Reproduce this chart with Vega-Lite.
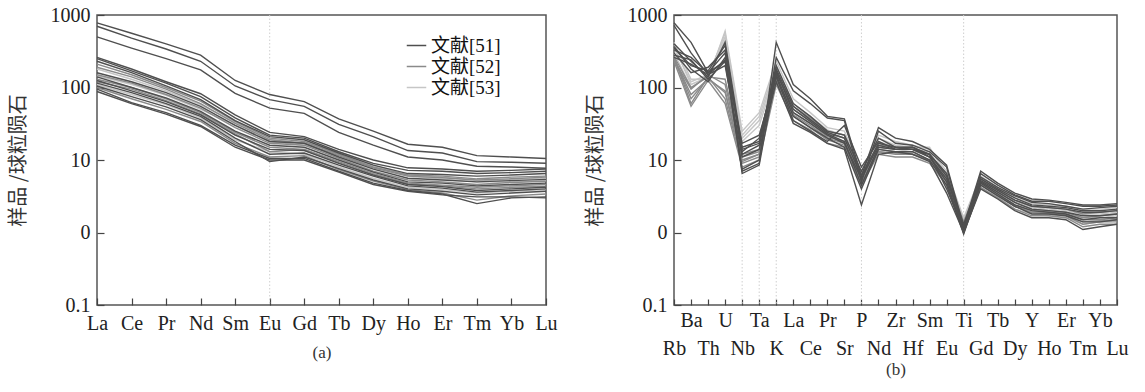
{
"$schema": "https://vega.github.io/schema/vega-lite/v6.json",
"background": "white",
"padding": {"left": 7, "top": 4, "right": 5, "bottom": 5},
"spacing": 26,
"config": {
  "view": {"stroke": "#555", "strokeWidth": 1.5},
  "axis": {"domain": false, "grid": false, "labelFont": "Liberation Serif", "labelFontSize": 20, "labelColor": "#222", "tickColor": "#444", "tickWidth": 1.2, "titleFont": "Noto Sans CJK SC", "titleFontSize": 20, "titleFontWeight": "normal", "titleColor": "#333", "labelFlush": false, "labelOverlap": false},
  "axisX": {"titleFont": "Liberation Serif", "titleFontSize": 17, "labelAngle": 0}
},
"datasets": {
  "refs": [
    {"s":"a1","r":"文献[51]"},{"s":"a2","r":"文献[51]"},{"s":"a3","r":"文献[51]"},{"s":"a4","r":"文献[51]"},{"s":"a5","r":"文献[51]"},{"s":"a6","r":"文献[51]"},{"s":"a9","r":"文献[51]"},{"s":"a12","r":"文献[51]"},{"s":"a14","r":"文献[51]"},{"s":"a16","r":"文献[51]"},{"s":"a18","r":"文献[51]"},{"s":"a20","r":"文献[51]"},{"s":"a21","r":"文献[51]"},
    {"s":"a7","r":"文献[52]"},{"s":"a8","r":"文献[52]"},{"s":"a10","r":"文献[52]"},{"s":"a13","r":"文献[52]"},{"s":"a15","r":"文献[52]"},{"s":"a19","r":"文献[52]"},
    {"s":"a11","r":"文献[53]"},{"s":"a17","r":"文献[53]"},{"s":"a22","r":"文献[53]"},
    {"s":"b1","r":"文献[51]"},{"s":"b2","r":"文献[51]"},{"s":"b3","r":"文献[51]"},{"s":"b4","r":"文献[51]"},{"s":"b5","r":"文献[51]"},{"s":"b6","r":"文献[51]"},{"s":"b7","r":"文献[51]"},{"s":"b8","r":"文献[51]"},{"s":"b9","r":"文献[51]"},
    {"s":"b10","r":"文献[52]"},{"s":"b11","r":"文献[52]"},{"s":"b12","r":"文献[52]"},{"s":"b13","r":"文献[52]"},{"s":"b14","r":"文献[52]"},{"s":"b15","r":"文献[52]"},
    {"s":"b16","r":"文献[53]"},{"s":"b17","r":"文献[53]"},{"s":"b18","r":"文献[53]"},{"s":"b19","r":"文献[53]"}
  ],
  "A": [
{"s":"a11","e":"La","v":145},{"s":"a11","e":"Ce","v":110},{"s":"a11","e":"Pr","v":78},{"s":"a11","e":"Nd","v":50},{"s":"a11","e":"Sm","v":30},{"s":"a11","e":"Eu","v":18},{"s":"a11","e":"Gd","v":16},{"s":"a11","e":"Tb","v":12},{"s":"a11","e":"Dy","v":8},{"s":"a11","e":"Ho","v":6},{"s":"a11","e":"Er","v":5.5},{"s":"a11","e":"Tm","v":5},{"s":"a11","e":"Yb","v":5},{"s":"a11","e":"Lu","v":5.2},
{"s":"a17","e":"La","v":110},{"s":"a17","e":"Ce","v":80},{"s":"a17","e":"Pr","v":58},{"s":"a17","e":"Nd","v":38},{"s":"a17","e":"Sm","v":19},{"s":"a17","e":"Eu","v":13},{"s":"a17","e":"Gd","v":12},{"s":"a17","e":"Tb","v":8},{"s":"a17","e":"Dy","v":5.6},{"s":"a17","e":"Ho","v":4.2},{"s":"a17","e":"Er","v":3.9},{"s":"a17","e":"Tm","v":3.5},{"s":"a17","e":"Yb","v":3.7},{"s":"a17","e":"Lu","v":3.9},
{"s":"a22","e":"La","v":180},{"s":"a22","e":"Ce","v":130},{"s":"a22","e":"Pr","v":90},{"s":"a22","e":"Nd","v":58},{"s":"a22","e":"Sm","v":33},{"s":"a22","e":"Eu","v":19},{"s":"a22","e":"Gd","v":17},{"s":"a22","e":"Tb","v":13},{"s":"a22","e":"Dy","v":8.5},{"s":"a22","e":"Ho","v":6.2},{"s":"a22","e":"Er","v":5.8},{"s":"a22","e":"Tm","v":5.2},{"s":"a22","e":"Yb","v":5.4},{"s":"a22","e":"Lu","v":5.6},
{"s":"a7","e":"La","v":210},{"s":"a7","e":"Ce","v":150},{"s":"a7","e":"Pr","v":100},{"s":"a7","e":"Nd","v":65},{"s":"a7","e":"Sm","v":34},{"s":"a7","e":"Eu","v":20},{"s":"a7","e":"Gd","v":18},{"s":"a7","e":"Tb","v":12},{"s":"a7","e":"Dy","v":8},{"s":"a7","e":"Ho","v":6.2},{"s":"a7","e":"Er","v":6},{"s":"a7","e":"Tm","v":5.5},{"s":"a7","e":"Yb","v":5.8},{"s":"a7","e":"Lu","v":6},
{"s":"a8","e":"La","v":190},{"s":"a8","e":"Ce","v":140},{"s":"a8","e":"Pr","v":95},{"s":"a8","e":"Nd","v":60},{"s":"a8","e":"Sm","v":32},{"s":"a8","e":"Eu","v":19},{"s":"a8","e":"Gd","v":17},{"s":"a8","e":"Tb","v":11.5},{"s":"a8","e":"Dy","v":7.8},{"s":"a8","e":"Ho","v":6},{"s":"a8","e":"Er","v":5.7},{"s":"a8","e":"Tm","v":5.3},{"s":"a8","e":"Yb","v":5.5},{"s":"a8","e":"Lu","v":5.8},
{"s":"a10","e":"La","v":150},{"s":"a10","e":"Ce","v":115},{"s":"a10","e":"Pr","v":80},{"s":"a10","e":"Nd","v":52},{"s":"a10","e":"Sm","v":28},{"s":"a10","e":"Eu","v":17},{"s":"a10","e":"Gd","v":16},{"s":"a10","e":"Tb","v":10.5},{"s":"a10","e":"Dy","v":7},{"s":"a10","e":"Ho","v":5.3},{"s":"a10","e":"Er","v":5},{"s":"a10","e":"Tm","v":4.6},{"s":"a10","e":"Yb","v":4.9},{"s":"a10","e":"Lu","v":5.1},
{"s":"a13","e":"La","v":130},{"s":"a13","e":"Ce","v":100},{"s":"a13","e":"Pr","v":70},{"s":"a13","e":"Nd","v":45},{"s":"a13","e":"Sm","v":24},{"s":"a13","e":"Eu","v":15},{"s":"a13","e":"Gd","v":14},{"s":"a13","e":"Tb","v":9.5},{"s":"a13","e":"Dy","v":6.5},{"s":"a13","e":"Ho","v":4.8},{"s":"a13","e":"Er","v":4.5},{"s":"a13","e":"Tm","v":4.2},{"s":"a13","e":"Yb","v":4.4},{"s":"a13","e":"Lu","v":4.6},
{"s":"a15","e":"La","v":120},{"s":"a15","e":"Ce","v":95},{"s":"a15","e":"Pr","v":66},{"s":"a15","e":"Nd","v":43},{"s":"a15","e":"Sm","v":23},{"s":"a15","e":"Eu","v":13},{"s":"a15","e":"Gd","v":14},{"s":"a15","e":"Tb","v":9.2},{"s":"a15","e":"Dy","v":6.3},{"s":"a15","e":"Ho","v":4.7},{"s":"a15","e":"Er","v":4.4},{"s":"a15","e":"Tm","v":4},{"s":"a15","e":"Yb","v":4.2},{"s":"a15","e":"Lu","v":4.3},
{"s":"a19","e":"La","v":100},{"s":"a19","e":"Ce","v":70},{"s":"a19","e":"Pr","v":50},{"s":"a19","e":"Nd","v":34},{"s":"a19","e":"Sm","v":17},{"s":"a19","e":"Eu","v":11},{"s":"a19","e":"Gd","v":11.5},{"s":"a19","e":"Tb","v":7.4},{"s":"a19","e":"Dy","v":5.1},{"s":"a19","e":"Ho","v":3.9},{"s":"a19","e":"Er","v":3.5},{"s":"a19","e":"Tm","v":2.8},{"s":"a19","e":"Yb","v":3.2},{"s":"a19","e":"Lu","v":3.4},
{"s":"a1","e":"La","v":780},{"s":"a1","e":"Ce","v":560},{"s":"a1","e":"Pr","v":400},{"s":"a1","e":"Nd","v":280},{"s":"a1","e":"Sm","v":125},{"s":"a1","e":"Eu","v":80},{"s":"a1","e":"Gd","v":64},{"s":"a1","e":"Tb","v":37},{"s":"a1","e":"Dy","v":25},{"s":"a1","e":"Ho","v":16.5},{"s":"a1","e":"Er","v":15},{"s":"a1","e":"Tm","v":11.5},{"s":"a1","e":"Yb","v":11},{"s":"a1","e":"Lu","v":10.5},
{"s":"a2","e":"La","v":700},{"s":"a2","e":"Ce","v":480},{"s":"a2","e":"Pr","v":340},{"s":"a2","e":"Nd","v":230},{"s":"a2","e":"Sm","v":105},{"s":"a2","e":"Eu","v":68},{"s":"a2","e":"Gd","v":55},{"s":"a2","e":"Tb","v":31},{"s":"a2","e":"Dy","v":21},{"s":"a2","e":"Ho","v":13.5},{"s":"a2","e":"Er","v":12.5},{"s":"a2","e":"Tm","v":9.5},{"s":"a2","e":"Yb","v":9.3},{"s":"a2","e":"Lu","v":9},
{"s":"a3","e":"La","v":500},{"s":"a3","e":"Ce","v":350},{"s":"a3","e":"Pr","v":250},{"s":"a3","e":"Nd","v":175},{"s":"a3","e":"Sm","v":83},{"s":"a3","e":"Eu","v":52},{"s":"a3","e":"Gd","v":44},{"s":"a3","e":"Tb","v":24},{"s":"a3","e":"Dy","v":16},{"s":"a3","e":"Ho","v":11},{"s":"a3","e":"Er","v":10},{"s":"a3","e":"Tm","v":8.2},{"s":"a3","e":"Yb","v":8},{"s":"a3","e":"Lu","v":7.7},
{"s":"a4","e":"La","v":260},{"s":"a4","e":"Ce","v":180},{"s":"a4","e":"Pr","v":120},{"s":"a4","e":"Nd","v":82},{"s":"a4","e":"Sm","v":42},{"s":"a4","e":"Eu","v":24},{"s":"a4","e":"Gd","v":21},{"s":"a4","e":"Tb","v":14},{"s":"a4","e":"Dy","v":10},{"s":"a4","e":"Ho","v":7.8},{"s":"a4","e":"Er","v":7.5},{"s":"a4","e":"Tm","v":7},{"s":"a4","e":"Yb","v":7.2},{"s":"a4","e":"Lu","v":7.5},
{"s":"a5","e":"La","v":250},{"s":"a5","e":"Ce","v":170},{"s":"a5","e":"Pr","v":115},{"s":"a5","e":"Nd","v":75},{"s":"a5","e":"Sm","v":38},{"s":"a5","e":"Eu","v":22},{"s":"a5","e":"Gd","v":20},{"s":"a5","e":"Tb","v":13},{"s":"a5","e":"Dy","v":9},{"s":"a5","e":"Ho","v":7.2},{"s":"a5","e":"Er","v":7},{"s":"a5","e":"Tm","v":6.5},{"s":"a5","e":"Yb","v":6.7},{"s":"a5","e":"Lu","v":7},
{"s":"a6","e":"La","v":230},{"s":"a6","e":"Ce","v":160},{"s":"a6","e":"Pr","v":105},{"s":"a6","e":"Nd","v":68},{"s":"a6","e":"Sm","v":35},{"s":"a6","e":"Eu","v":21},{"s":"a6","e":"Gd","v":19},{"s":"a6","e":"Tb","v":12.5},{"s":"a6","e":"Dy","v":8.5},{"s":"a6","e":"Ho","v":6.5},{"s":"a6","e":"Er","v":6.3},{"s":"a6","e":"Tm","v":6},{"s":"a6","e":"Yb","v":6.2},{"s":"a6","e":"Lu","v":6.5},
{"s":"a9","e":"La","v":160},{"s":"a9","e":"Ce","v":120},{"s":"a9","e":"Pr","v":85},{"s":"a9","e":"Nd","v":55},{"s":"a9","e":"Sm","v":30},{"s":"a9","e":"Eu","v":18},{"s":"a9","e":"Gd","v":17},{"s":"a9","e":"Tb","v":11},{"s":"a9","e":"Dy","v":7.5},{"s":"a9","e":"Ho","v":5.6},{"s":"a9","e":"Er","v":5.3},{"s":"a9","e":"Tm","v":5},{"s":"a9","e":"Yb","v":5.2},{"s":"a9","e":"Lu","v":5.4},
{"s":"a12","e":"La","v":140},{"s":"a12","e":"Ce","v":100},{"s":"a12","e":"Pr","v":72},{"s":"a12","e":"Nd","v":47},{"s":"a12","e":"Sm","v":25},{"s":"a12","e":"Eu","v":16},{"s":"a12","e":"Gd","v":15},{"s":"a12","e":"Tb","v":10},{"s":"a12","e":"Dy","v":6.8},{"s":"a12","e":"Ho","v":5},{"s":"a12","e":"Er","v":4.8},{"s":"a12","e":"Tm","v":4.4},{"s":"a12","e":"Yb","v":4.6},{"s":"a12","e":"Lu","v":4.8},
{"s":"a14","e":"La","v":125},{"s":"a14","e":"Ce","v":90},{"s":"a14","e":"Pr","v":64},{"s":"a14","e":"Nd","v":42},{"s":"a14","e":"Sm","v":22},{"s":"a14","e":"Eu","v":14},{"s":"a14","e":"Gd","v":13.5},{"s":"a14","e":"Tb","v":9},{"s":"a14","e":"Dy","v":6.2},{"s":"a14","e":"Ho","v":4.6},{"s":"a14","e":"Er","v":4.3},{"s":"a14","e":"Tm","v":3.8},{"s":"a14","e":"Yb","v":4},{"s":"a14","e":"Lu","v":4.2},
{"s":"a16","e":"La","v":115},{"s":"a16","e":"Ce","v":85},{"s":"a16","e":"Pr","v":60},{"s":"a16","e":"Nd","v":40},{"s":"a16","e":"Sm","v":20},{"s":"a16","e":"Eu","v":12},{"s":"a16","e":"Gd","v":12.5},{"s":"a16","e":"Tb","v":8.5},{"s":"a16","e":"Dy","v":6},{"s":"a16","e":"Ho","v":4.4},{"s":"a16","e":"Er","v":4.1},{"s":"a16","e":"Tm","v":3.6},{"s":"a16","e":"Yb","v":3.8},{"s":"a16","e":"Lu","v":4},
{"s":"a18","e":"La","v":105},{"s":"a18","e":"Ce","v":75},{"s":"a18","e":"Pr","v":54},{"s":"a18","e":"Nd","v":36},{"s":"a18","e":"Sm","v":18},{"s":"a18","e":"Eu","v":9.5},{"s":"a18","e":"Gd","v":11},{"s":"a18","e":"Tb","v":7.6},{"s":"a18","e":"Dy","v":5.3},{"s":"a18","e":"Ho","v":4},{"s":"a18","e":"Er","v":3.7},{"s":"a18","e":"Tm","v":3.3},{"s":"a18","e":"Yb","v":3.5},{"s":"a18","e":"Lu","v":3.7},
{"s":"a20","e":"La","v":95},{"s":"a20","e":"Ce","v":62},{"s":"a20","e":"Pr","v":45},{"s":"a20","e":"Nd","v":30},{"s":"a20","e":"Sm","v":16},{"s":"a20","e":"Eu","v":10.5},{"s":"a20","e":"Gd","v":10.5},{"s":"a20","e":"Tb","v":7},{"s":"a20","e":"Dy","v":4.8},{"s":"a20","e":"Ho","v":3.8},{"s":"a20","e":"Er","v":3.4},{"s":"a20","e":"Tm","v":2.5},{"s":"a20","e":"Yb","v":3},{"s":"a20","e":"Lu","v":3.1},
{"s":"a21","e":"La","v":88},{"s":"a21","e":"Ce","v":60},{"s":"a21","e":"Pr","v":43},{"s":"a21","e":"Nd","v":29},{"s":"a21","e":"Sm","v":15},{"s":"a21","e":"Eu","v":10},{"s":"a21","e":"Gd","v":10},{"s":"a21","e":"Tb","v":6.8},{"s":"a21","e":"Dy","v":4.6},{"s":"a21","e":"Ho","v":3.7},{"s":"a21","e":"Er","v":3.3},{"s":"a21","e":"Tm","v":3.1},{"s":"a21","e":"Yb","v":3.1},{"s":"a21","e":"Lu","v":3}
  ],
  "B": [
{"s":"b16","e":"Rb","v":420},{"s":"b16","e":"Ba","v":130},{"s":"b16","e":"Th","v":130},{"s":"b16","e":"U","v":600},{"s":"b16","e":"Nb","v":25},{"s":"b16","e":"Ta","v":45},{"s":"b16","e":"K","v":230},{"s":"b16","e":"La","v":70},{"s":"b16","e":"Ce","v":45},{"s":"b16","e":"Pr","v":28},{"s":"b16","e":"Sr","v":25},{"s":"b16","e":"P","v":7},{"s":"b16","e":"Nd","v":22},{"s":"b16","e":"Zr","v":18},{"s":"b16","e":"Hf","v":16},{"s":"b16","e":"Sm","v":14},{"s":"b16","e":"Eu","v":7},{"s":"b16","e":"Ti","v":1.6},{"s":"b16","e":"Gd","v":6},{"s":"b16","e":"Tb","v":4.2},{"s":"b16","e":"Dy","v":3},{"s":"b16","e":"Y","v":2.5},{"s":"b16","e":"Ho","v":2.4},{"s":"b16","e":"Er","v":2.3},{"s":"b16","e":"Tm","v":2.1},{"s":"b16","e":"Yb","v":2.1},{"s":"b16","e":"Lu","v":2.2},
{"s":"b17","e":"Rb","v":380},{"s":"b17","e":"Ba","v":110},{"s":"b17","e":"Th","v":140},{"s":"b17","e":"U","v":560},{"s":"b17","e":"Nb","v":22},{"s":"b17","e":"Ta","v":40},{"s":"b17","e":"K","v":200},{"s":"b17","e":"La","v":60},{"s":"b17","e":"Ce","v":40},{"s":"b17","e":"Pr","v":26},{"s":"b17","e":"Sr","v":22},{"s":"b17","e":"P","v":6},{"s":"b17","e":"Nd","v":20},{"s":"b17","e":"Zr","v":16},{"s":"b17","e":"Hf","v":15},{"s":"b17","e":"Sm","v":15},{"s":"b17","e":"Eu","v":6},{"s":"b17","e":"Ti","v":1.5},{"s":"b17","e":"Gd","v":5.5},{"s":"b17","e":"Tb","v":3.8},{"s":"b17","e":"Dy","v":2.7},{"s":"b17","e":"Y","v":2.2},{"s":"b17","e":"Ho","v":2.1},{"s":"b17","e":"Er","v":2},{"s":"b17","e":"Tm","v":1.8},{"s":"b17","e":"Yb","v":1.8},{"s":"b17","e":"Lu","v":1.9},
{"s":"b18","e":"Rb","v":350},{"s":"b18","e":"Ba","v":120},{"s":"b18","e":"Th","v":150},{"s":"b18","e":"U","v":500},{"s":"b18","e":"Nb","v":20},{"s":"b18","e":"Ta","v":35},{"s":"b18","e":"K","v":180},{"s":"b18","e":"La","v":55},{"s":"b18","e":"Ce","v":37},{"s":"b18","e":"Pr","v":24},{"s":"b18","e":"Sr","v":20},{"s":"b18","e":"P","v":5.5},{"s":"b18","e":"Nd","v":18},{"s":"b18","e":"Zr","v":15},{"s":"b18","e":"Hf","v":14},{"s":"b18","e":"Sm","v":13},{"s":"b18","e":"Eu","v":5.5},{"s":"b18","e":"Ti","v":1.4},{"s":"b18","e":"Gd","v":5},{"s":"b18","e":"Tb","v":3.5},{"s":"b18","e":"Dy","v":2.4},{"s":"b18","e":"Y","v":2},{"s":"b18","e":"Ho","v":1.9},{"s":"b18","e":"Er","v":1.8},{"s":"b18","e":"Tm","v":1.6},{"s":"b18","e":"Yb","v":1.6},{"s":"b18","e":"Lu","v":1.7},
{"s":"b19","e":"Rb","v":300},{"s":"b19","e":"Ba","v":100},{"s":"b19","e":"Th","v":145},{"s":"b19","e":"U","v":450},{"s":"b19","e":"Nb","v":18},{"s":"b19","e":"Ta","v":30},{"s":"b19","e":"K","v":160},{"s":"b19","e":"La","v":50},{"s":"b19","e":"Ce","v":34},{"s":"b19","e":"Pr","v":22},{"s":"b19","e":"Sr","v":18},{"s":"b19","e":"P","v":5},{"s":"b19","e":"Nd","v":17},{"s":"b19","e":"Zr","v":14},{"s":"b19","e":"Hf","v":13},{"s":"b19","e":"Sm","v":12},{"s":"b19","e":"Eu","v":5},{"s":"b19","e":"Ti","v":1.3},{"s":"b19","e":"Gd","v":4.6},{"s":"b19","e":"Tb","v":3.1},{"s":"b19","e":"Dy","v":2.1},{"s":"b19","e":"Y","v":1.8},{"s":"b19","e":"Ho","v":1.7},{"s":"b19","e":"Er","v":1.6},{"s":"b19","e":"Tm","v":1.3},{"s":"b19","e":"Yb","v":1.4},{"s":"b19","e":"Lu","v":1.5},
{"s":"b10","e":"Rb","v":260},{"s":"b10","e":"Ba","v":60},{"s":"b10","e":"Th","v":140},{"s":"b10","e":"U","v":70},{"s":"b10","e":"Nb","v":9},{"s":"b10","e":"Ta","v":11},{"s":"b10","e":"K","v":130},{"s":"b10","e":"La","v":40},{"s":"b10","e":"Ce","v":28},{"s":"b10","e":"Pr","v":19},{"s":"b10","e":"Sr","v":16},{"s":"b10","e":"P","v":5},{"s":"b10","e":"Nd","v":13},{"s":"b10","e":"Zr","v":12},{"s":"b10","e":"Hf","v":12},{"s":"b10","e":"Sm","v":10},{"s":"b10","e":"Eu","v":5},{"s":"b10","e":"Ti","v":1.1},{"s":"b10","e":"Gd","v":4.5},{"s":"b10","e":"Tb","v":3.3},{"s":"b10","e":"Dy","v":2.3},{"s":"b10","e":"Y","v":1.9},{"s":"b10","e":"Ho","v":1.8},{"s":"b10","e":"Er","v":1.7},{"s":"b10","e":"Tm","v":1.3},{"s":"b10","e":"Yb","v":1.4},{"s":"b10","e":"Lu","v":1.4},
{"s":"b11","e":"Rb","v":250},{"s":"b11","e":"Ba","v":80},{"s":"b11","e":"Th","v":130},{"s":"b11","e":"U","v":90},{"s":"b11","e":"Nb","v":10},{"s":"b11","e":"Ta","v":12},{"s":"b11","e":"K","v":140},{"s":"b11","e":"La","v":45},{"s":"b11","e":"Ce","v":32},{"s":"b11","e":"Pr","v":21},{"s":"b11","e":"Sr","v":18},{"s":"b11","e":"P","v":5.5},{"s":"b11","e":"Nd","v":14},{"s":"b11","e":"Zr","v":13},{"s":"b11","e":"Hf","v":13},{"s":"b11","e":"Sm","v":10},{"s":"b11","e":"Eu","v":5.5},{"s":"b11","e":"Ti","v":1.2},{"s":"b11","e":"Gd","v":4.8},{"s":"b11","e":"Tb","v":3.4},{"s":"b11","e":"Dy","v":2.4},{"s":"b11","e":"Y","v":2},{"s":"b11","e":"Ho","v":1.9},{"s":"b11","e":"Er","v":1.8},{"s":"b11","e":"Tm","v":1.5},{"s":"b11","e":"Yb","v":1.5},{"s":"b11","e":"Lu","v":1.6},
{"s":"b12","e":"Rb","v":240},{"s":"b12","e":"Ba","v":95},{"s":"b12","e":"Th","v":150},{"s":"b12","e":"U","v":110},{"s":"b12","e":"Nb","v":11},{"s":"b12","e":"Ta","v":13},{"s":"b12","e":"K","v":120},{"s":"b12","e":"La","v":50},{"s":"b12","e":"Ce","v":35},{"s":"b12","e":"Pr","v":23},{"s":"b12","e":"Sr","v":20},{"s":"b12","e":"P","v":6},{"s":"b12","e":"Nd","v":15},{"s":"b12","e":"Zr","v":14},{"s":"b12","e":"Hf","v":14},{"s":"b12","e":"Sm","v":11},{"s":"b12","e":"Eu","v":6},{"s":"b12","e":"Ti","v":1.3},{"s":"b12","e":"Gd","v":5},{"s":"b12","e":"Tb","v":3.6},{"s":"b12","e":"Dy","v":2.6},{"s":"b12","e":"Y","v":2.1},{"s":"b12","e":"Ho","v":2},{"s":"b12","e":"Er","v":1.9},{"s":"b12","e":"Tm","v":1.6},{"s":"b12","e":"Yb","v":1.7},{"s":"b12","e":"Lu","v":1.8},
{"s":"b13","e":"Rb","v":230},{"s":"b13","e":"Ba","v":55},{"s":"b13","e":"Th","v":125},{"s":"b13","e":"U","v":60},{"s":"b13","e":"Nb","v":8},{"s":"b13","e":"Ta","v":10},{"s":"b13","e":"K","v":110},{"s":"b13","e":"La","v":35},{"s":"b13","e":"Ce","v":26},{"s":"b13","e":"Pr","v":17},{"s":"b13","e":"Sr","v":15},{"s":"b13","e":"P","v":4.5},{"s":"b13","e":"Nd","v":12},{"s":"b13","e":"Zr","v":11},{"s":"b13","e":"Hf","v":11},{"s":"b13","e":"Sm","v":9},{"s":"b13","e":"Eu","v":4.5},{"s":"b13","e":"Ti","v":1},{"s":"b13","e":"Gd","v":4.2},{"s":"b13","e":"Tb","v":3},{"s":"b13","e":"Dy","v":2.1},{"s":"b13","e":"Y","v":1.7},{"s":"b13","e":"Ho","v":1.7},{"s":"b13","e":"Er","v":1.6},{"s":"b13","e":"Tm","v":1.2},{"s":"b13","e":"Yb","v":1.3},{"s":"b13","e":"Lu","v":1.3},
{"s":"b14","e":"Rb","v":270},{"s":"b14","e":"Ba","v":100},{"s":"b14","e":"Th","v":140},{"s":"b14","e":"U","v":130},{"s":"b14","e":"Nb","v":12},{"s":"b14","e":"Ta","v":14},{"s":"b14","e":"K","v":160},{"s":"b14","e":"La","v":55},{"s":"b14","e":"Ce","v":38},{"s":"b14","e":"Pr","v":25},{"s":"b14","e":"Sr","v":22},{"s":"b14","e":"P","v":6.5},{"s":"b14","e":"Nd","v":16},{"s":"b14","e":"Zr","v":15},{"s":"b14","e":"Hf","v":15},{"s":"b14","e":"Sm","v":12},{"s":"b14","e":"Eu","v":6.5},{"s":"b14","e":"Ti","v":1.4},{"s":"b14","e":"Gd","v":5.5},{"s":"b14","e":"Tb","v":3.9},{"s":"b14","e":"Dy","v":2.8},{"s":"b14","e":"Y","v":2.3},{"s":"b14","e":"Ho","v":2.2},{"s":"b14","e":"Er","v":2.1},{"s":"b14","e":"Tm","v":1.8},{"s":"b14","e":"Yb","v":1.9},{"s":"b14","e":"Lu","v":2},
{"s":"b15","e":"Rb","v":255},{"s":"b15","e":"Ba","v":70},{"s":"b15","e":"Th","v":135},{"s":"b15","e":"U","v":85},{"s":"b15","e":"Nb","v":9.5},{"s":"b15","e":"Ta","v":12},{"s":"b15","e":"K","v":125},{"s":"b15","e":"La","v":42},{"s":"b15","e":"Ce","v":30},{"s":"b15","e":"Pr","v":20},{"s":"b15","e":"Sr","v":17},{"s":"b15","e":"P","v":5},{"s":"b15","e":"Nd","v":13},{"s":"b15","e":"Zr","v":12.5},{"s":"b15","e":"Hf","v":12},{"s":"b15","e":"Sm","v":10},{"s":"b15","e":"Eu","v":5},{"s":"b15","e":"Ti","v":1.1},{"s":"b15","e":"Gd","v":4.6},{"s":"b15","e":"Tb","v":3.3},{"s":"b15","e":"Dy","v":2.3},{"s":"b15","e":"Y","v":1.9},{"s":"b15","e":"Ho","v":1.85},{"s":"b15","e":"Er","v":1.75},{"s":"b15","e":"Tm","v":1.4},{"s":"b15","e":"Yb","v":1.45},{"s":"b15","e":"Lu","v":1.5},
{"s":"b1","e":"Rb","v":780},{"s":"b1","e":"Ba","v":420},{"s":"b1","e":"Th","v":160},{"s":"b1","e":"U","v":230},{"s":"b1","e":"Nb","v":7},{"s":"b1","e":"Ta","v":9},{"s":"b1","e":"K","v":420},{"s":"b1","e":"La","v":110},{"s":"b1","e":"Ce","v":70},{"s":"b1","e":"Pr","v":40},{"s":"b1","e":"Sr","v":37},{"s":"b1","e":"P","v":6},{"s":"b1","e":"Nd","v":28},{"s":"b1","e":"Zr","v":20},{"s":"b1","e":"Hf","v":18},{"s":"b1","e":"Sm","v":14},{"s":"b1","e":"Eu","v":8.5},{"s":"b1","e":"Ti","v":1.2},{"s":"b1","e":"Gd","v":7},{"s":"b1","e":"Tb","v":4.8},{"s":"b1","e":"Dy","v":3.5},{"s":"b1","e":"Y","v":2.9},{"s":"b1","e":"Ho","v":2.8},{"s":"b1","e":"Er","v":2.6},{"s":"b1","e":"Tm","v":2.4},{"s":"b1","e":"Yb","v":2.4},{"s":"b1","e":"Lu","v":2.5},
{"s":"b2","e":"Rb","v":720},{"s":"b2","e":"Ba","v":300},{"s":"b2","e":"Th","v":150},{"s":"b2","e":"U","v":240},{"s":"b2","e":"Nb","v":7.5},{"s":"b2","e":"Ta","v":10},{"s":"b2","e":"K","v":260},{"s":"b2","e":"La","v":90},{"s":"b2","e":"Ce","v":60},{"s":"b2","e":"Pr","v":38},{"s":"b2","e":"Sr","v":35},{"s":"b2","e":"P","v":5},{"s":"b2","e":"Nd","v":25},{"s":"b2","e":"Zr","v":17},{"s":"b2","e":"Hf","v":16},{"s":"b2","e":"Sm","v":13},{"s":"b2","e":"Eu","v":8},{"s":"b2","e":"Ti","v":1.1},{"s":"b2","e":"Gd","v":6.5},{"s":"b2","e":"Tb","v":4.5},{"s":"b2","e":"Dy","v":3.3},{"s":"b2","e":"Y","v":2.7},{"s":"b2","e":"Ho","v":2.7},{"s":"b2","e":"Er","v":2.5},{"s":"b2","e":"Tm","v":2.3},{"s":"b2","e":"Yb","v":2.3},{"s":"b2","e":"Lu","v":2.4},
{"s":"b3","e":"Rb","v":400},{"s":"b3","e":"Ba","v":230},{"s":"b3","e":"Th","v":140},{"s":"b3","e":"U","v":420},{"s":"b3","e":"Nb","v":15},{"s":"b3","e":"Ta","v":18},{"s":"b3","e":"K","v":200},{"s":"b3","e":"La","v":60},{"s":"b3","e":"Ce","v":40},{"s":"b3","e":"Pr","v":25},{"s":"b3","e":"Sr","v":22},{"s":"b3","e":"P","v":7},{"s":"b3","e":"Nd","v":20},{"s":"b3","e":"Zr","v":15},{"s":"b3","e":"Hf","v":14},{"s":"b3","e":"Sm","v":12},{"s":"b3","e":"Eu","v":6},{"s":"b3","e":"Ti","v":1.3},{"s":"b3","e":"Gd","v":5.5},{"s":"b3","e":"Tb","v":4},{"s":"b3","e":"Dy","v":3},{"s":"b3","e":"Y","v":2.4},{"s":"b3","e":"Ho","v":2.3},{"s":"b3","e":"Er","v":2.2},{"s":"b3","e":"Tm","v":2},{"s":"b3","e":"Yb","v":2},{"s":"b3","e":"Lu","v":2.1},
{"s":"b4","e":"Rb","v":350},{"s":"b4","e":"Ba","v":200},{"s":"b4","e":"Th","v":170},{"s":"b4","e":"U","v":380},{"s":"b4","e":"Nb","v":13},{"s":"b4","e":"Ta","v":20},{"s":"b4","e":"K","v":170},{"s":"b4","e":"La","v":45},{"s":"b4","e":"Ce","v":32},{"s":"b4","e":"Pr","v":22},{"s":"b4","e":"Sr","v":17},{"s":"b4","e":"P","v":5.5},{"s":"b4","e":"Nd","v":16},{"s":"b4","e":"Zr","v":14},{"s":"b4","e":"Hf","v":15},{"s":"b4","e":"Sm","v":11},{"s":"b4","e":"Eu","v":5},{"s":"b4","e":"Ti","v":1},{"s":"b4","e":"Gd","v":5},{"s":"b4","e":"Tb","v":3.6},{"s":"b4","e":"Dy","v":2.6},{"s":"b4","e":"Y","v":2.1},{"s":"b4","e":"Ho","v":2},{"s":"b4","e":"Er","v":1.9},{"s":"b4","e":"Tm","v":1.7},{"s":"b4","e":"Yb","v":1.7},{"s":"b4","e":"Lu","v":1.8},
{"s":"b5","e":"Rb","v":300},{"s":"b5","e":"Ba","v":160},{"s":"b5","e":"Th","v":190},{"s":"b5","e":"U","v":330},{"s":"b5","e":"Nb","v":12},{"s":"b5","e":"Ta","v":16},{"s":"b5","e":"K","v":150},{"s":"b5","e":"La","v":40},{"s":"b5","e":"Ce","v":28},{"s":"b5","e":"Pr","v":20},{"s":"b5","e":"Sr","v":15},{"s":"b5","e":"P","v":4},{"s":"b5","e":"Nd","v":14},{"s":"b5","e":"Zr","v":13},{"s":"b5","e":"Hf","v":13},{"s":"b5","e":"Sm","v":10},{"s":"b5","e":"Eu","v":4.5},{"s":"b5","e":"Ti","v":0.95},{"s":"b5","e":"Gd","v":4.5},{"s":"b5","e":"Tb","v":3.2},{"s":"b5","e":"Dy","v":2.3},{"s":"b5","e":"Y","v":1.8},{"s":"b5","e":"Ho","v":1.8},{"s":"b5","e":"Er","v":1.7},{"s":"b5","e":"Tm","v":1.4},{"s":"b5","e":"Yb","v":1.4},{"s":"b5","e":"Lu","v":1.5},
{"s":"b6","e":"Rb","v":280},{"s":"b6","e":"Ba","v":240},{"s":"b6","e":"Th","v":130},{"s":"b6","e":"U","v":230},{"s":"b6","e":"Nb","v":17},{"s":"b6","e":"Ta","v":22},{"s":"b6","e":"K","v":140},{"s":"b6","e":"La","v":35},{"s":"b6","e":"Ce","v":25},{"s":"b6","e":"Pr","v":18},{"s":"b6","e":"Sr","v":30},{"s":"b6","e":"P","v":8},{"s":"b6","e":"Nd","v":18},{"s":"b6","e":"Zr","v":14},{"s":"b6","e":"Hf","v":14},{"s":"b6","e":"Sm","v":11},{"s":"b6","e":"Eu","v":5.5},{"s":"b6","e":"Ti","v":1.2},{"s":"b6","e":"Gd","v":4.8},{"s":"b6","e":"Tb","v":3.4},{"s":"b6","e":"Dy","v":2.4},{"s":"b6","e":"Y","v":2},{"s":"b6","e":"Ho","v":1.9},{"s":"b6","e":"Er","v":1.8},{"s":"b6","e":"Tm","v":1.5},{"s":"b6","e":"Yb","v":1.6},{"s":"b6","e":"Lu","v":1.6},
{"s":"b7","e":"Rb","v":260},{"s":"b7","e":"Ba","v":210},{"s":"b7","e":"Th","v":150},{"s":"b7","e":"U","v":200},{"s":"b7","e":"Nb","v":11},{"s":"b7","e":"Ta","v":14},{"s":"b7","e":"K","v":120},{"s":"b7","e":"La","v":32},{"s":"b7","e":"Ce","v":24},{"s":"b7","e":"Pr","v":17},{"s":"b7","e":"Sr","v":14},{"s":"b7","e":"P","v":2.4},{"s":"b7","e":"Nd","v":12},{"s":"b7","e":"Zr","v":13},{"s":"b7","e":"Hf","v":12},{"s":"b7","e":"Sm","v":9.5},{"s":"b7","e":"Eu","v":3.5},{"s":"b7","e":"Ti","v":1},{"s":"b7","e":"Gd","v":4},{"s":"b7","e":"Tb","v":2.9},{"s":"b7","e":"Dy","v":2},{"s":"b7","e":"Y","v":1.6},{"s":"b7","e":"Ho","v":1.6},{"s":"b7","e":"Er","v":1.5},{"s":"b7","e":"Tm","v":1.1},{"s":"b7","e":"Yb","v":1.2},{"s":"b7","e":"Lu","v":1.3},
{"s":"b8","e":"Rb","v":370},{"s":"b8","e":"Ba","v":180},{"s":"b8","e":"Th","v":120},{"s":"b8","e":"U","v":260},{"s":"b8","e":"Nb","v":14},{"s":"b8","e":"Ta","v":17},{"s":"b8","e":"K","v":180},{"s":"b8","e":"La","v":55},{"s":"b8","e":"Ce","v":36},{"s":"b8","e":"Pr","v":24},{"s":"b8","e":"Sr","v":20},{"s":"b8","e":"P","v":6},{"s":"b8","e":"Nd","v":17},{"s":"b8","e":"Zr","v":15},{"s":"b8","e":"Hf","v":15},{"s":"b8","e":"Sm","v":12},{"s":"b8","e":"Eu","v":4},{"s":"b8","e":"Ti","v":1.1},{"s":"b8","e":"Gd","v":5.2},{"s":"b8","e":"Tb","v":3.8},{"s":"b8","e":"Dy","v":2.8},{"s":"b8","e":"Y","v":2.3},{"s":"b8","e":"Ho","v":2.2},{"s":"b8","e":"Er","v":2.1},{"s":"b8","e":"Tm","v":1.9},{"s":"b8","e":"Yb","v":1.9},{"s":"b8","e":"Lu","v":2},
{"s":"b9","e":"Rb","v":330},{"s":"b9","e":"Ba","v":260},{"s":"b9","e":"Th","v":160},{"s":"b9","e":"U","v":300},{"s":"b9","e":"Nb","v":6.5},{"s":"b9","e":"Ta","v":8.5},{"s":"b9","e":"K","v":160},{"s":"b9","e":"La","v":50},{"s":"b9","e":"Ce","v":34},{"s":"b9","e":"Pr","v":23},{"s":"b9","e":"Sr","v":18},{"s":"b9","e":"P","v":4.5},{"s":"b9","e":"Nd","v":15},{"s":"b9","e":"Zr","v":14},{"s":"b9","e":"Hf","v":14},{"s":"b9","e":"Sm","v":12},{"s":"b9","e":"Eu","v":6.5},{"s":"b9","e":"Ti","v":1},{"s":"b9","e":"Gd","v":5.8},{"s":"b9","e":"Tb","v":4.2},{"s":"b9","e":"Dy","v":3.2},{"s":"b9","e":"Y","v":2.6},{"s":"b9","e":"Ho","v":2.5},{"s":"b9","e":"Er","v":2.3},{"s":"b9","e":"Tm","v":2.1},{"s":"b9","e":"Yb","v":2.2},{"s":"b9","e":"Lu","v":2.3}
  ]
},
"hconcat": [
  {
    "width": 449, "height": 290,
    "layer": [
      {
        "data": {"values": [{"e": "Eu"}]},
        "mark": {"type": "rule", "color": "#cfcfcf", "strokeDash": [1.5, 2], "strokeWidth": 1},
        "encoding": {
          "x": {"field": "e", "type": "ordinal", "scale": {"type": "point", "padding": 0, "domain": ["La","Ce","Pr","Nd","Sm","Eu","Gd","Tb","Dy","Ho","Er","Tm","Yb","Lu"]}, "axis": {"title": "(a)", "tickSize": -7, "labelPadding": 15, "titlePadding": 11}}
        }
      },
      {
        "data": {"name": "A"},
        "transform": [{"lookup": "s", "from": {"data": {"name": "refs"}, "key": "s", "fields": ["r"]}}],
        "mark": {"type": "line", "strokeWidth": 1.4},
        "encoding": {
          "x": {"field": "e", "type": "ordinal", "sort": ["La","Ce","Pr","Nd","Sm","Eu","Gd","Tb","Dy","Ho","Er","Tm","Yb","Lu"], "scale": {"type": "point", "padding": 0, "domain": ["La","Ce","Pr","Nd","Sm","Eu","Gd","Tb","Dy","Ho","Er","Tm","Yb","Lu"]}, "axis": {"title": "(a)", "tickSize": -7, "labelPadding": 15, "titlePadding": 11}},
          "y": {"field": "v", "type": "quantitative", "scale": {"type": "log", "domain": [0.1, 1000], "nice": false}, "axis": {"values": [0.1, 1, 10, 100, 1000], "labelExpr": "datum.value == 1 ? '0' : datum.value < 1 ? '0.1' : format(datum.value, 'd')", "title": "样品 /球粒陨石", "tickSize": -7, "labelPadding": 14, "titlePadding": 22}},
          "color": {"field": "r", "type": "nominal", "scale": {"domain": ["文献[51]", "文献[52]", "文献[53]"], "range": ["#4f4f4f", "#8a8a8a", "#c6c6c6"]},
            "legend": {"orient": "none", "legendX": 309, "legendY": 20, "title": null, "symbolType": "stroke", "symbolSize": 380, "symbolStrokeWidth": 1.5, "labelFont": "Liberation Serif, Noto Sans CJK SC", "labelFontSize": 19, "labelColor": "#111", "rowPadding": 0, "labelOffset": 4}},
          "detail": {"field": "s"}
        }
      }
    ]
  },
  {
    "width": 443, "height": 290,
    "layer": [
      {
        "data": {"values": [{"e": "Nb"}, {"e": "Ta"}, {"e": "K"}, {"e": "P"}, {"e": "Ti"}]},
        "mark": {"type": "rule", "color": "#cfcfcf", "strokeDash": [1.5, 2], "strokeWidth": 1},
        "encoding": {
          "x": {"field": "e", "type": "ordinal", "scale": {"type": "point", "padding": 0, "domain": ["Rb","Ba","Th","U","Nb","Ta","K","La","Ce","Pr","Sr","P","Nd","Zr","Hf","Sm","Eu","Ti","Gd","Tb","Dy","Y","Ho","Er","Tm","Yb","Lu"]}, "axis": {"title": "(b)", "tickSize": -6, "labelPadding": 11, "titlePadding": 3, "labelLineHeight": 28, "labelExpr": "indexof(['Rb','Th','Nb','K','Ce','Sr','Nd','Hf','Eu','Gd','Dy','Ho','Tm','Lu'], datum.value) >= 0 ? ['', datum.value] : datum.value"}}
        }
      },
      {
        "data": {"name": "B"},
        "transform": [{"lookup": "s", "from": {"data": {"name": "refs"}, "key": "s", "fields": ["r"]}}],
        "mark": {"type": "line", "strokeWidth": 1.4},
        "encoding": {
          "x": {"field": "e", "type": "ordinal", "sort": ["Rb","Ba","Th","U","Nb","Ta","K","La","Ce","Pr","Sr","P","Nd","Zr","Hf","Sm","Eu","Ti","Gd","Tb","Dy","Y","Ho","Er","Tm","Yb","Lu"], "scale": {"type": "point", "padding": 0, "domain": ["Rb","Ba","Th","U","Nb","Ta","K","La","Ce","Pr","Sr","P","Nd","Zr","Hf","Sm","Eu","Ti","Gd","Tb","Dy","Y","Ho","Er","Tm","Yb","Lu"]}, "axis": {"title": "(b)", "tickSize": -6, "labelPadding": 11, "titlePadding": 3, "labelLineHeight": 28, "labelExpr": "indexof(['Rb','Th','Nb','K','Ce','Sr','Nd','Hf','Eu','Gd','Dy','Ho','Tm','Lu'], datum.value) >= 0 ? ['', datum.value] : datum.value"}},
          "y": {"field": "v", "type": "quantitative", "scale": {"type": "log", "domain": [0.1, 1000], "nice": false}, "axis": {"values": [0.1, 1, 10, 100, 1000], "labelExpr": "datum.value == 1 ? '0' : datum.value < 1 ? '0.1' : format(datum.value, 'd')", "title": "样品 /球粒陨石", "tickSize": -7, "labelPadding": 14, "titlePadding": 22}},
          "color": {"field": "r", "type": "nominal", "scale": {"domain": ["文献[51]", "文献[52]", "文献[53]"], "range": ["#4f4f4f", "#8a8a8a", "#c6c6c6"]}, "legend": null},
          "detail": {"field": "s"}
        }
      }
    ]
  }
],
"resolve": {"scale": {"x": "independent", "y": "independent", "color": "independent"}, "legend": {"color": "independent"}}
}
